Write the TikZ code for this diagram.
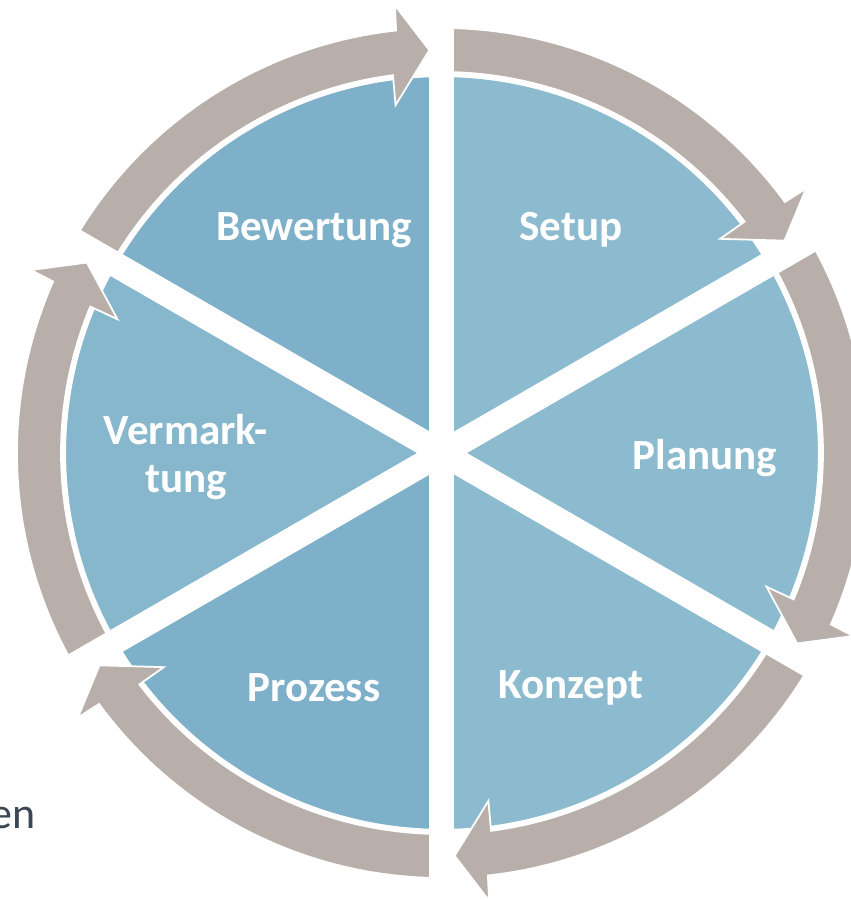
\documentclass[tikz,border=0pt]{standalone}
\usepackage{fontspec}
\setmainfont{Carlito}

\definecolor{ringgray}{HTML}{B8AFAB}
\definecolor{lightblue}{HTML}{8CBBCF}
\definecolor{darkblue}{HTML}{7EB1C9}
\definecolor{midblue}{HTML}{86B7CD}
\definecolor{textgray}{HTML}{3B4754}

\tikzset{
  sector/.style={draw=white, line width=1.2pt},
  ringarrow/.style={fill=ringgray, draw=white, line width=1pt, line join=miter},
  gap/.style={draw=white, line width=0.5cm},
  phase/.style={text=white, font=\bfseries\fontsize{24.5}{27}\selectfont, align=center},
  cuttext/.style={text=textgray, font=\fontsize{25}{30}\selectfont}
}

\begin{document}
\begin{tikzpicture}[x=0.02cm, y=0.02cm]
\fill[white] (-442,-447) rectangle (408,453);
\useasboundingbox (-442,-447) rectangle (408,453);

% pie
\foreach \a/\col in {30/lightblue, -30/lightblue, -90/lightblue, -150/darkblue, 150/midblue, 90/darkblue}
  \filldraw[sector, fill=\col] (0,0) -- (\a:377) arc[start angle=\a, end angle=\a+60, radius=377] -- cycle;

% arrows round the ring, clockwise
\foreach \g in {90,30,-30,-90,-150,-210}
  \filldraw[ringarrow] (\g+60:425) arc[start angle=\g+60, end angle=\g+6.2, radius=425]
    -- (\g+6:450) -- (\g+1.8:403) -- (\g+7.6:351) -- (\g+7.4:381)
    arc[start angle=\g+7.4, end angle=\g+60, radius=381] -- cycle;

% white gaps
\foreach \g in {30,90,...,330}
  \draw[gap] (0,0) -- (\g:465);

\node[phase] (bewertung) at (-128,223) {Bewertung};
\node[phase] (setup) at (129,223) {Setup};
\node[phase] (planung) at (263,-5) {Planung};
\node[phase] (konzept) at (129,-235) {Konzept};
\node[phase] (prozess) at (-128,-235) {Prozess};
\node[phase] (vermarktung) at (-256,-4) {Vermark-\\tung};

\node[cuttext, anchor=base east, inner sep=0pt] (rest) at (-406,-375) {en};
\end{tikzpicture}
\end{document}
